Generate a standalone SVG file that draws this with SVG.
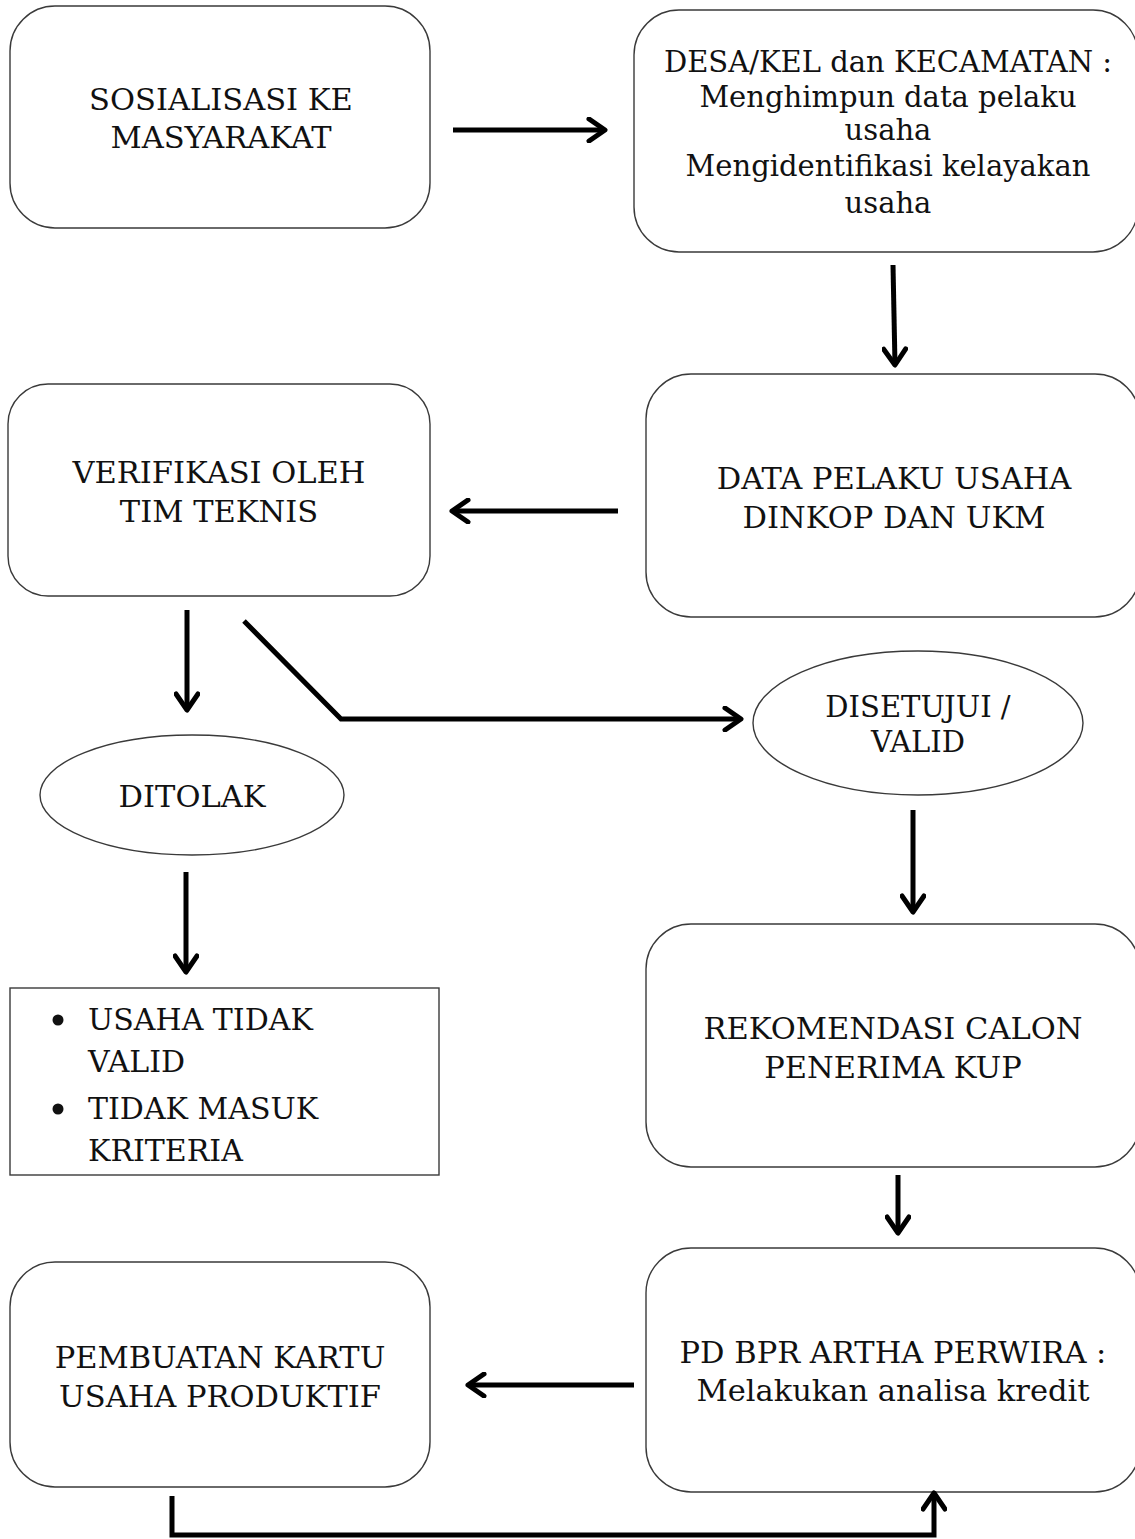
<svg xmlns="http://www.w3.org/2000/svg" width="1135" height="1539" viewBox="0 0 1135 1539">
<style>
.box{fill:#fff;stroke:#3a3a3a;stroke-width:1.4}
.t{font-family:"DejaVu Serif","Liberation Serif",serif;font-size:30.5px;fill:#111;text-anchor:middle}
.s{font-size:29px}
.tl{font-family:"DejaVu Serif","Liberation Serif",serif;font-size:30px;fill:#111}
.c{fill:none;stroke:#000;stroke-width:5}
</style>
<defs>
<marker id="ah" viewBox="0 0 22 26" refX="19" refY="13" markerWidth="22" markerHeight="26" markerUnits="userSpaceOnUse" orient="auto">
<path d="M3,2 L19,13 L3,24" fill="none" stroke="#000" stroke-width="5" stroke-linecap="round" stroke-linejoin="round"/>
</marker>
</defs>
<rect width="1135" height="1539" fill="#fff"/>
<g id="n1"><rect class="box" x="10" y="6" width="420" height="222" rx="45"/>
<text class="t" x="221" y="110">SOSIALISASI KE</text><text class="t" x="221" y="148">MASYARAKAT</text></g>
<g id="n2"><rect class="box" x="634" y="10" width="504" height="242" rx="45"/>
<text class="t s" x="888" y="72">DESA/KEL dan KECAMATAN :</text>
<text class="t s" x="888" y="107">Menghimpun data pelaku</text>
<text class="t s" x="888" y="140">usaha</text>
<text class="t s" x="888" y="176">Mengidentifikasi kelayakan</text>
<text class="t s" x="888" y="213">usaha</text></g>
<g id="n3"><rect class="box" x="646" y="374" width="494" height="243" rx="45"/>
<text class="t" x="894" y="489">DATA PELAKU USAHA</text><text class="t" x="894" y="528">DINKOP DAN UKM</text></g>
<g id="n4"><rect class="box" x="8" y="384" width="422" height="212" rx="40"/>
<text class="t" x="219" y="483">VERIFIKASI OLEH</text><text class="t" x="219" y="522">TIM TEKNIS</text></g>
<g id="n5"><ellipse class="box" cx="192" cy="795" rx="152" ry="60"/>
<text class="t" x="192" y="807">DITOLAK</text></g>
<g id="n6"><ellipse class="box" cx="918" cy="723" rx="165" ry="72"/>
<text class="t s" x="918" y="717">DISETUJUI /</text><text class="t s" x="918" y="752">VALID</text></g>
<g id="n7"><rect class="box" x="10" y="988" width="429" height="187"/>
<circle cx="58" cy="1020" r="5.5" fill="#111"/><circle cx="58" cy="1109" r="5.5" fill="#111"/>
<text class="tl" x="88" y="1030">USAHA TIDAK</text><text class="tl" x="88" y="1072">VALID</text>
<text class="tl" x="88" y="1119">TIDAK MASUK</text><text class="tl" x="88" y="1161">KRITERIA</text></g>
<g id="n8"><rect class="box" x="646" y="924" width="494" height="243" rx="45"/>
<text class="t" x="893" y="1039">REKOMENDASI CALON</text><text class="t" x="893" y="1078">PENERIMA KUP</text></g>
<g id="n9"><rect class="box" x="646" y="1248" width="494" height="244" rx="45"/>
<text class="t" x="893" y="1363">PD BPR ARTHA PERWIRA :</text><text class="t" x="893" y="1401">Melakukan analisa kredit</text></g>
<g id="n10"><rect class="box" x="10" y="1262" width="420" height="225" rx="45"/>
<text class="t" x="220" y="1368">PEMBUATAN KARTU</text><text class="t" x="220" y="1407">USAHA PRODUKTIF</text></g>
<g id="connectors">
<path class="c" d="M453,130 L605,130" marker-end="url(#ah)"/>
<path class="c" d="M893,265 L895,365" marker-end="url(#ah)"/>
<path class="c" d="M618,511 L452,511" marker-end="url(#ah)"/>
<path class="c" d="M187,610 L187,710" marker-end="url(#ah)"/>
<path class="c" d="M244,621 L341,719 L741,719" marker-end="url(#ah)"/>
<path class="c" d="M186,872 L186,972" marker-end="url(#ah)"/>
<path class="c" d="M913,810 L913,912" marker-end="url(#ah)"/>
<path class="c" d="M898,1175 L898,1233" marker-end="url(#ah)"/>
<path class="c" d="M634,1385 L468,1385" marker-end="url(#ah)"/>
<path class="c" d="M172,1496 L172,1535 L934,1535 L934,1493" marker-end="url(#ah)"/>
</g>
</svg>
